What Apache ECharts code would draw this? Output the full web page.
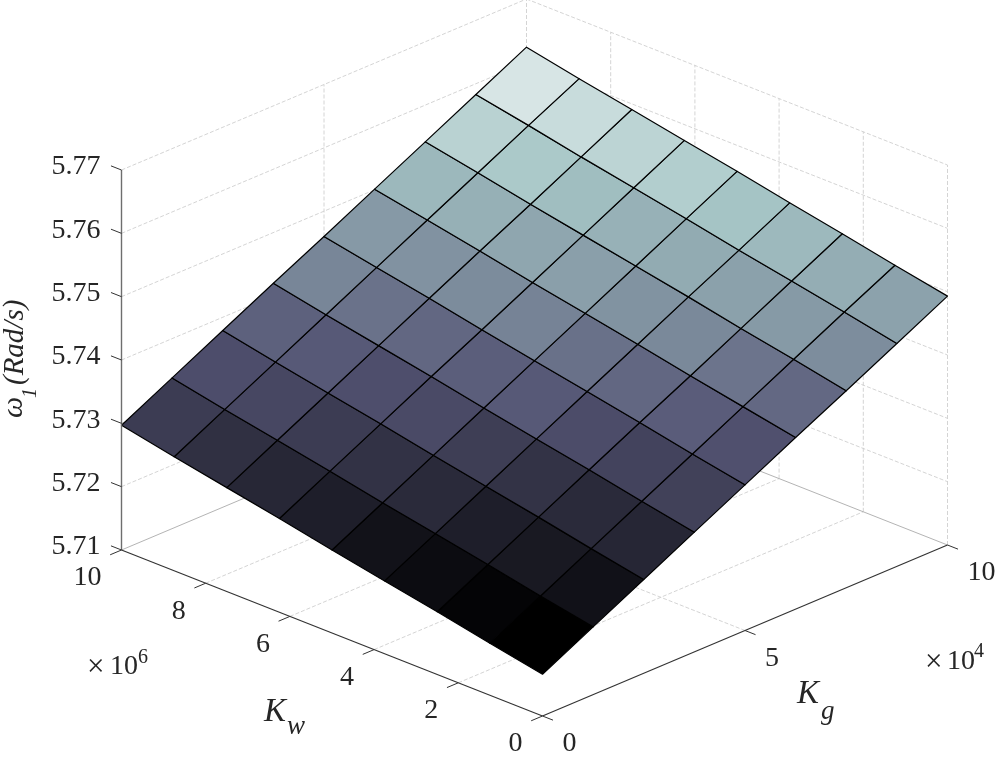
<!DOCTYPE html>
<html>
<head>
<meta charset="utf-8">
<title>omega1 surface</title>
<script src="https://cdn.jsdelivr.net/npm/echarts@6/dist/echarts.min.js"></script>
<style>
  html, body { margin: 0; padding: 0; background: #fff; }
  #chart { width: 996px; height: 760px; }
</style>
</head>
<body>
<div id="chart"></div>
<script>
// ---- data ----
const kgTicks = [0, 5, 10];            // x 10^4
const kwTicks = [0, 2, 4, 6, 8, 10];   // x 10^6
const zTicks = [5.71, 5.72, 5.73, 5.74, 5.75, 5.76, 5.77];

const kgNodes = [0, 1.25, 2.5, 3.75, 5, 6.25, 7.5, 8.75, 10];
const kwNodes = [0, 1.25, 2.5, 3.75, 5, 6.25, 7.5, 8.75, 10];

// omega1, one row per kwNodes entry, one column per kgNodes entry
const omegaGrid = [
  [5.7166, 5.7207, 5.7248, 5.7289, 5.7330, 5.7371, 5.7411, 5.7452, 5.7493],
  [5.7182, 5.7223, 5.7264, 5.7305, 5.7346, 5.7387, 5.7428, 5.7469, 5.7509],
  [5.7199, 5.7240, 5.7281, 5.7322, 5.7363, 5.7403, 5.7444, 5.7485, 5.7526],
  [5.7215, 5.7256, 5.7297, 5.7338, 5.7379, 5.7420, 5.7461, 5.7501, 5.7542],
  [5.7231, 5.7272, 5.7313, 5.7354, 5.7395, 5.7436, 5.7477, 5.7518, 5.7559],
  [5.7248, 5.7289, 5.7330, 5.7371, 5.7411, 5.7452, 5.7493, 5.7534, 5.7575],
  [5.7264, 5.7305, 5.7346, 5.7387, 5.7428, 5.7469, 5.7509, 5.7550, 5.7591],
  [5.7280, 5.7321, 5.7362, 5.7403, 5.7444, 5.7485, 5.7526, 5.7567, 5.7607],
  [5.7297, 5.7338, 5.7379, 5.7420, 5.7460, 5.7501, 5.7542, 5.7583, 5.7624]
];

// colormap position of each cell, one row per Kg strip, one column per Kw strip
const cellShades = [
  [0.000, 0.018, 0.054, 0.080, 0.134, 0.174, 0.214, 0.268],
  [0.076, 0.110, 0.134, 0.187, 0.223, 0.268, 0.317, 0.345],
  [0.170, 0.187, 0.228, 0.277, 0.330, 0.350, 0.390, 0.417],
  [0.290, 0.300, 0.340, 0.390, 0.408, 0.437, 0.473, 0.538],
  [0.355, 0.400, 0.437, 0.470, 0.528, 0.557, 0.577, 0.600],
  [0.440, 0.480, 0.548, 0.580, 0.620, 0.643, 0.675, 0.700],
  [0.560, 0.603, 0.626, 0.658, 0.678, 0.720, 0.760, 0.800],
  [0.629, 0.665, 0.704, 0.740, 0.780, 0.810, 0.845, 0.886]
];

// bone colormap
const boneStops = ['#000000', '#1c1c27', '#38384d', '#545474', '#707a90', '#8ba1ab', '#a7c7c7', '#d3e3e3', '#ffffff'];

// ---- projection of the 3D box on the page plane ----
const project = (kg, kw, z) => [
  542.5 + kg * 40.5 - kw * 42.1,
  716 - kg * 17.1 - kw * 16.6 - (z - 5.71) * 6333
];

const zMin = zTicks[0];
const zMax = zTicks[zTicks.length - 1];

// wall and floor grid
const gridLines = [];
const edgeLines = [];
zTicks.forEach((z, i) => {
  (i === 0 ? edgeLines : gridLines).push([0, 10, z, 10, 10, z], [10, 10, z, 10, 0, z]);
});
kgTicks.slice(1, -1).forEach(kg => {
  gridLines.push([kg, 0, zMin, kg, 10, zMin], [kg, 10, zMin, kg, 10, zMax]);
});
kwTicks.slice(1, -1).forEach(kw => {
  gridLines.push([0, kw, zMin, 10, kw, zMin], [10, kw, zMin, 10, kw, zMax]);
});
gridLines.push([10, 10, zMin, 10, 10, zMax], [10, 0, zMin, 10, 0, zMax]);

// axes and tick marks
const zAxisLine = [[0, 10, zMin, 0, 10, zMax]];
const floorAxes = [[0, 0, zMin, 0, 10, zMin], [0, 0, zMin, 10, 0, zMin]];
const tickMarks = [];
zTicks.forEach(z => tickMarks.push([0, 10, z, 0, 10.25, z]));
kwTicks.forEach(kw => tickMarks.push([0, kw, zMin, -0.28, kw, zMin]));
kgTicks.forEach(kg => tickMarks.push([kg, 0, zMin, kg, -0.25, zMin]));

// surface cells: [kg index, kw index, shade]
const cells = [];
cellShades.forEach((row, i) => row.forEach((shade, j) => cells.push([i, j, shade])));

const lineSeries = (name, data, color, width, dash) => ({
  name,
  type: 'custom',
  silent: true,
  clip: false,
  data,
  renderItem: (params, api) => {
    const a = api.coord(project(api.value(0), api.value(1), api.value(2)));
    const b = api.coord(project(api.value(3), api.value(4), api.value(5)));
    return {
      type: 'line',
      shape: { x1: a[0], y1: a[1], x2: b[0], y2: b[1] },
      style: { stroke: color, lineWidth: width, lineDash: dash || null }
    };
  }
});

const tickLabelSeries = (name, data, dx, dy, align) => ({
  name,
  type: 'custom',
  silent: true,
  clip: false,
  data: data.map(d => d.slice(0, 3)),
  renderItem: (params, api) => {
    const p = api.coord(project(api.value(0), api.value(1), api.value(2)));
    return {
      type: 'text',
      x: p[0] + dx,
      y: p[1] + dy,
      style: {
        text: data[params.dataIndex][3],
        font: '28px "Liberation Serif"',
        fill: '#262626',
        align,
        verticalAlign: 'middle'
      }
    };
  }
});

const surfaceSeries = {
  name: 'omega1',
  type: 'custom',
  silent: true,
  clip: false,
  data: cells,
  encode: { x: 0, y: 1 },
  renderItem: (params, api) => {
    const i = api.value(0);
    const j = api.value(1);
    const corner = (a, b) => api.coord(project(kgNodes[a], kwNodes[b], omegaGrid[b][a]));
    return {
      type: 'polygon',
      shape: { points: [corner(i, j), corner(i + 1, j), corner(i + 1, j + 1), corner(i, j + 1)] },
      style: { fill: api.visual('color'), stroke: '#000000', lineWidth: 1.2, lineJoin: 'round' }
    };
  }
};

const serif = size => size + 'px "Liberation Serif"';
const italic = size => 'italic ' + size + 'px "Liberation Serif"';
const label = (text, x, y, font, rotation) => ({
  type: 'text',
  x,
  y,
  rotation: rotation || 0,
  silent: true,
  style: { text, font, fill: '#262626', align: 'left', verticalAlign: 'middle' }
});

const chart = echarts.init(document.getElementById('chart'), null, { renderer: 'canvas' });
chart.setOption({
  animation: false,
  backgroundColor: '#ffffff',
  grid: { left: 0, right: 0, top: 0, bottom: 0 },
  xAxis: { type: 'value', min: 0, max: 996, show: false },
  yAxis: { type: 'value', min: 0, max: 760, inverse: true, show: false },
  visualMap: {
    show: false,
    type: 'continuous',
    seriesIndex: 2,
    dimension: 2,
    min: 0,
    max: 1,
    inRange: { color: boneStops }
  },
  series: [
    lineSeries('grid', gridLines, '#cfcfcf', 0.9, [4, 2]),
    lineSeries('edges', edgeLines, '#b4b4b4', 1),
    surfaceSeries,
    lineSeries('zAxis', zAxisLine, '#6e6e6e', 1.4),
    lineSeries('floorAxes', floorAxes, '#333333', 1.2),
    lineSeries('ticks', tickMarks, '#333333', 1),
    tickLabelSeries('zLabels', zTicks.map(z => [0, 10, z, z.toFixed(2)]), -21, -3, 'right'),
    tickLabelSeries('kwLabels', kwTicks.map(kw => [0, kw, zMin, String(kw)]), -20, 28, 'right'),
    tickLabelSeries('kgLabels', kgTicks.map(kg => [kg, 0, zMin, String(kg)]), 20, 28, 'left')
  ],
  graphic: [
    label('\u00d7', 87, 668, serif(31)),
    label('10', 110, 667, serif(28)),
    label('6', 138, 658, serif(20)),
    label('\u00d7', 925, 663, serif(31)),
    label('10', 947, 662, serif(28)),
    label('4', 974, 652, serif(20)),
    label('K', 264, 712, italic(33)),
    label('w', 287, 727, italic(27)),
    label('K', 797, 694, italic(33)),
    label('g', 821, 712, italic(27)),
    label('\u03c9', 14, 418, italic(30), Math.PI / 2),
    label('1', 31, 398, italic(20), Math.PI / 2),
    label('(Rad/s)', 15, 385, italic(29), Math.PI / 2)
  ]
});
</script>
</body>
</html>
